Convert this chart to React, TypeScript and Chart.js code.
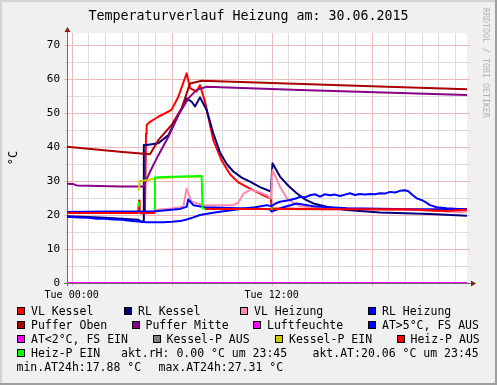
import React, { useEffect, useRef } from 'react';
import { Chart, registerables } from 'chart.js';

Chart.register(...registerables);

type P = [number, number | null];

// ---- data (x = hours since Tue 00:00, y = °C) ----
const vlKessel: P[] = [
  [-0.28, 20.6], [1, 20.6], [2, 20.7], [3, 20.7], [4.0, 20.8], [4.04, 24.3], [4.08, 20.6], [4.4, 20.6],
  [4.46, 44.0], [4.5, 46.5], [4.7, 47.4], [5.2, 48.9], [5.8, 50.4], [6.0, 51.0], [6.4, 54.8],
  [6.9, 61.7], [7.1, 57.3], [7.5, 56.3], [7.7, 58.2], [8.0, 53.3], [8.5, 42.0], [9.0, 36.0],
  [9.5, 32.0], [10.0, 29.6], [10.5, 28.3], [11.0, 27.0], [11.5, 25.8], [11.95, 24.8], [12.0, 22.0],
  [14, 21.8], [18, 21.7], [21, 21.5], [22.5, 21.1], [23.3, 21.2], [23.72, 21.7],
];
const rlKessel: P[] = [
  [-0.28, 19.6], [1, 19.4], [2, 19.2], [3, 18.9], [4.0, 18.6], [4.2, 18.0], [4.3, 18.2], [4.33, 40.6],
  [4.5, 40.6], [5.2, 41.1], [5.8, 43.5], [6.5, 50.4], [6.9, 54.3], [7.2, 53.3], [7.4, 51.9],
  [7.7, 54.6], [8.1, 50.9], [8.5, 44.0], [8.9, 38.4], [9.3, 35.0], [9.7, 32.8], [10.2, 31.0],
  [10.7, 29.8], [11.3, 28.2], [11.95, 26.9], [12.05, 35.2], [12.5, 31.3], [13.0, 28.6], [13.5, 26.4],
  [14.0, 24.6], [14.5, 23.4], [15.5, 22.2], [16.5, 21.5], [18.5, 20.7], [21.5, 20.3], [23.72, 19.8],
];
const vlHeizung: P[] = [
  [-0.28, 20.7], [4.9, 20.8], [5.0, 21.5], [6.0, 21.9], [6.7, 22.4], [6.9, 27.8], [7.2, 23.9],
  [7.9, 22.9], [9.7, 22.9], [10.0, 23.6], [10.3, 26.2], [10.7, 27.4], [11.2, 26.8], [11.7, 25.8],
  [11.95, 24.9], [12.05, 33.2], [12.5, 28.3], [12.9, 25.0], [13.3, 23.6], [13.7, 22.6], [14.5, 22.2],
  [18, 21.8], [22, 21.3], [23.3, 20.8], [23.72, 21.0],
];
const rlHeizung: P[] = [
  [-0.28, 20.9], [2, 21.0], [4, 21.0], [4.9, 21.0], [5.5, 21.3], [6.5, 21.8], [6.9, 22.4],
  [7.0, 24.6], [7.3, 22.9], [8, 22.3], [10, 22.0], [11.9, 21.7], [12.0, 21.0], [12.7, 22.3],
  [13.5, 23.4], [14.5, 22.6], [16.5, 22.0], [20.5, 21.7], [23.72, 21.7],
];
const pufferOben: P[] = [
  [-0.28, 40.1], [1, 39.5], [2.9, 38.6], [4.7, 37.9], [5.2, 42.0], [6.0, 46.5], [6.6, 51.4],
  [7.1, 58.7], [7.8, 59.5], [12, 58.8], [18, 57.9], [23.72, 57.0],
];
const pufferMitte: P[] = [
  [-0.28, 29.2], [0.1, 29.1], [0.3, 28.7], [1, 28.6], [3, 28.4], [4.3, 28.4], [4.7, 32.7],
  [5.2, 37.6], [5.8, 43.0], [6.4, 49.4], [7.0, 54.3], [7.5, 56.8], [8.1, 57.7], [9.8, 57.4],
  [13.7, 56.8], [23.72, 55.3],
];
const luftfeuchte: P[] = [[-0.28, 0], [23.72, 0]];
const atWarm: P[] = [
  [-0.28, 19.5], [0.5, 19.3], [1.0, 19.2], [1.5, 18.9], [2, 18.9], [2.5, 18.7], [3, 18.6],
  [3.5, 18.3], [4, 18.1], [4.5, 17.9], [5, 17.9], [5.5, 17.9], [6.0, 18.0], [6.5, 18.2],
  [6.9, 18.7], [7.3, 19.3], [7.7, 20.0], [8.3, 20.5], [9.0, 21.0], [9.7, 21.5], [10.3, 21.9],
  [11.0, 22.3], [11.7, 22.9], [12.0, 22.6], [12.2, 23.3], [12.5, 23.9], [13.1, 24.4], [13.5, 24.9],
  [13.7, 25.4], [14.0, 25.2], [14.3, 25.8], [14.6, 26.1], [14.9, 25.4], [15.2, 26.1], [15.5, 25.8],
  [15.8, 26.0], [16.1, 25.6], [16.4, 26.0], [16.7, 26.4], [17.0, 25.9], [17.3, 26.2], [17.6, 26.0],
  [17.9, 26.2], [18.2, 26.1], [18.5, 26.4], [18.8, 26.3], [19.1, 26.8], [19.4, 26.6], [19.7, 27.1],
  [20.0, 27.3], [20.2, 27.0], [20.4, 26.1], [20.7, 24.9], [21.1, 24.2], [21.5, 22.9], [21.9, 22.3],
  [22.5, 22.0], [23.2, 21.8], [23.72, 21.7],
];
const atCold: P[] = [];
const kesselPAus: P[] = [];
const kesselPEin: P[] = [
  [4.0, 27.2], [4.1, 30.0], [4.6, 30.3], [5.0, 30.8], [6.5, 31.2], [7.8, 31.3],
];
const heizPAus: P[] = [
  [-0.28, 20.6], [4.0, 20.6], [4.02, null], [4.1, 20.5], [5.0, 20.6], [5.01, null],
  [8.0, 21.8], [11.98, 21.8], [12.0, null], [12.03, 21.8], [16, 21.7], [20, 21.7], [22.5, 21.2], [23.72, 21.6],
];
const heizPEin: P[] = [
  [4.02, 22.4], [4.05, 24.0], [4.06, null],
  [5.0, 21.5], [5.0, 31.0], [5.5, 31.2], [6.5, 31.3], [7.8, 31.5], [7.85, 22.0], [8.0, 21.8], [8.01, null],
  [11.98, 21.6], [12.02, 22.3],
];

const seriesLabels = [
  'VL Kessel', 'RL Kessel', 'VL Heizung', 'RL Heizung', 'Puffer Oben', 'Puffer Mitte',
  'Luftfeuchte', 'AT>5°C, FS AUS', 'AT<2°C, FS EIN', 'Kessel-P AUS', 'Kessel-P EIN', 'Heiz-P AUS', 'Heiz-P EIN',
];
const seriesData = [
  vlKessel, rlKessel, vlHeizung, rlHeizung, pufferOben, pufferMitte,
  luftfeuchte, atWarm, atCold, kesselPAus, kesselPEin, heizPAus, heizPEin,
];
const seriesColors = [
  '#ff0000', '#00007f', '#ff8aaa', '#0000ff', '#aa0000', '#880088',
  '#ff00ff', '#0000ff', '#ff00ff', '#808080', '#cccc00', '#ff0000', '#00ff00',
];

const xGridHours = [0, 1, 2, 3, 4, 5, 6, 7, 8, 9, 10, 11, 12, 13, 14, 15, 16, 17, 18, 19, 20, 21, 22, 23];
const xLabelHours = [0, 12];
const xLabels = ['Tue 00:00', 'Tue 12:00'];
const yGridValues = [0, 5, 10, 15, 20, 25, 30, 35, 40, 45, 50, 55, 60, 65, 70];
const yLabelValues = [0, 10, 20, 30, 40, 50, 60, 70];

const titleText = 'Temperaturverlauf Heizung am: 30.06.2015';
const yTitle = '°C';
const watermark = 'RRDTOOL / TOBI OETIKER';
const infoTexts = ['akt.rH: 0.00 °C um 23:45', 'akt.AT:20.06 °C um 23:45', 'min.AT24h:17.88 °C', 'max.AT24h:27.31 °C'];

// ---- layout ----
const W = 497, H = 385;
const X_MIN = -0.28, X_MAX = 23.72;
const Y_MIN = 0, Y_MAX = 73.53;
const MAJOR = '#ebbaba';
const MINOR = '#dcdcdc';
const MONO = "'DejaVu Sans Mono', monospace";

const legendPos: [number, number][] = [
  [17, 311], [124, 311], [240, 311], [368, 311],
  [17, 325], [131.5, 325], [253, 325], [368, 325],
  [17, 339], [152.5, 339], [275, 339], [396.5, 339],
  [17, 353],
];
const infoPos: [number, number][] = [[121, 353], [312.5, 353], [16.5, 367], [158.5, 367]];

const framePlugin = {
  id: 'rrdFrame',
  beforeDraw(chart: any) {
    const { ctx, chartArea: a } = chart;
    ctx.save();
    ctx.fillStyle = '#f0f0f0';
    ctx.fillRect(0, 0, W, H);
    ctx.fillStyle = '#d4d4d4';
    ctx.fillRect(0, 0, W, 2);
    ctx.fillRect(0, 0, 2, H);
    ctx.fillStyle = '#9e9e9e';
    ctx.fillRect(0, H - 2, W, 2);
    ctx.fillRect(W - 2, 0, 2, H);
    ctx.fillStyle = '#ffffff';
    ctx.fillRect(a.left, a.top, a.right - a.left, a.bottom - a.top);
    ctx.restore();
  },
  beforeDatasetsDraw(chart: any) {
    const { ctx, chartArea: a, scales } = chart;
    ctx.save();
    ctx.lineWidth = 1;
    const hLine = (v: number, major: boolean) => {
      const y = Math.round(scales.y.getPixelForValue(v)) + 0.5;
      ctx.strokeStyle = major ? MAJOR : MINOR;
      ctx.beginPath(); ctx.moveTo(a.left - (major ? 3 : 2), y); ctx.lineTo(a.right + 3, y); ctx.stroke();
    };
    const vLine = (h: number, major: boolean) => {
      const x = Math.round(scales.x.getPixelForValue(h)) + 0.5;
      ctx.strokeStyle = major ? MAJOR : MINOR;
      ctx.beginPath(); ctx.moveTo(x, a.top); ctx.lineTo(x, a.bottom + (major ? 3 : 2)); ctx.stroke();
    };
    for (const v of yGridValues) if (v % 10 !== 0) hLine(v, false);
    for (const h of xGridHours) if (h % 6 !== 0) vLine(h, false);
    for (const v of yGridValues) if (v % 10 === 0) hLine(v, true);
    for (const h of xGridHours) if (h % 6 === 0) vLine(h, true);
    // axes
    ctx.fillStyle = '#6a6a6a';
    ctx.fillRect(a.left, a.top - 2, 1, a.bottom - a.top + 5);
    ctx.fillRect(a.left - 3, a.bottom, a.right - a.left + 7, 1);
    // arrows
    ctx.fillStyle = '#8c1c1c';
    ctx.beginPath();
    ctx.moveTo(a.left + 0.5, a.top - 6);
    ctx.lineTo(a.left - 2.5, a.top - 1);
    ctx.lineTo(a.left + 3.5, a.top - 1);
    ctx.closePath(); ctx.fill();
    ctx.beginPath();
    ctx.moveTo(a.right + 9, a.bottom + 0.5);
    ctx.lineTo(a.right + 4, a.bottom - 2.5);
    ctx.lineTo(a.right + 4, a.bottom + 3.5);
    ctx.closePath(); ctx.fill();
    ctx.restore();
  },
};

export default function App() {
  const ref = useRef<HTMLCanvasElement | null>(null);

  useEffect(() => {
    if (!ref.current) return;
    const n = seriesData.length;
    const datasets = seriesData.map((d, i) => ({
      label: seriesLabels[i],
      data: d.map(([x, y]) => ({ x, y })),
      borderColor: seriesColors[i],
      backgroundColor: seriesColors[i],
      borderWidth: 2,
      pointRadius: 0,
      tension: 0,
      spanGaps: false,
      fill: false,
      borderJoinStyle: 'round' as const,
      order: n - i,
    }));
    const chart = new Chart(ref.current, {
      type: 'line',
      data: { datasets },
      plugins: [framePlugin],
      options: {
        animation: false,
        responsive: false,
        devicePixelRatio: 1,
        events: [],
        layout: { padding: { top: 33, right: 30, left: 0, bottom: 0 } },
        plugins: { legend: { display: false }, title: { display: false }, tooltip: { enabled: false } },
        scales: {
          x: {
            type: 'linear',
            min: X_MIN,
            max: X_MAX,
            afterFit: (s: any) => { s.height = 102; },
            afterBuildTicks: (s: any) => { s.ticks = xGridHours.map((v) => ({ value: v })); },
            border: { display: false },
            grid: { display: false, drawTicks: false },
            ticks: {
              autoSkip: false,
              maxRotation: 0,
              padding: 6,
              color: '#000',
              font: { family: MONO, size: 10 },
              callback: (v: any) => {
                const k = xLabelHours.indexOf(Number(v));
                return k >= 0 ? xLabels[k] : '';
              },
            },
          },
          y: {
            type: 'linear',
            min: Y_MIN,
            max: Y_MAX,
            afterFit: (s: any) => { s.width = 67; },
            afterBuildTicks: (s: any) => { s.ticks = yGridValues.map((v) => ({ value: v })); },
            border: { display: false },
            grid: { display: false, drawTicks: false },
            ticks: {
              padding: 7,
              color: '#000',
              font: { family: MONO, size: 11 },
              callback: (v: any) => (yLabelValues.indexOf(Number(v)) >= 0 ? String(v) : ''),
            },
          },
        },
      },
    });
    return () => chart.destroy();
  }, []);

  const txt: React.CSSProperties = {
    position: 'absolute',
    fontFamily: MONO,
    fontSize: 11.5,
    lineHeight: '14px',
    height: 14,
    whiteSpace: 'pre',
    color: '#000',
  };

  return (
    <div style={{ position: 'fixed', left: 0, top: 0, width: W, height: H, overflow: 'hidden' }}>
      <canvas ref={ref} width={W} height={H} style={{ position: 'absolute', left: 0, top: 0, width: W, height: H }} />
      <div style={{ position: 'absolute', left: 0, top: 7, width: W, textAlign: 'center', fontFamily: MONO, fontSize: 13.3, lineHeight: '18px', color: '#000', whiteSpace: 'pre' }}>
        {titleText}
      </div>
      <div style={{ position: 'absolute', left: 13, top: 158, width: 0, height: 0 }}>
        <div style={{ position: 'absolute', left: -20, top: -8, width: 40, textAlign: 'center', fontFamily: MONO, fontSize: 12, lineHeight: '16px', transform: 'rotate(-90deg)', color: '#000' }}>
          {yTitle}
        </div>
      </div>
      <div style={{ position: 'absolute', left: 481, top: 8, writingMode: 'vertical-rl', fontFamily: MONO, fontSize: 8.3, lineHeight: '10px', color: '#b4b4b4', whiteSpace: 'pre' }}>
        {watermark}
      </div>
      {legendPos.map(([x, y], i) => (
        <div key={'l' + i} style={{ ...txt, left: x, top: y - 7, display: 'flex', alignItems: 'center' }}>
          <span style={{ display: 'inline-block', boxSizing: 'border-box', width: 8, height: 8, background: seriesColors[i], border: '1px solid #000', marginRight: 6 }} />
          <span>{seriesLabels[i]}</span>
        </div>
      ))}
      {infoPos.map(([x, y], i) => (
        <div key={'i' + i} style={{ ...txt, left: x, top: y - 7 }}>{infoTexts[i]}</div>
      ))}
    </div>
  );
}
